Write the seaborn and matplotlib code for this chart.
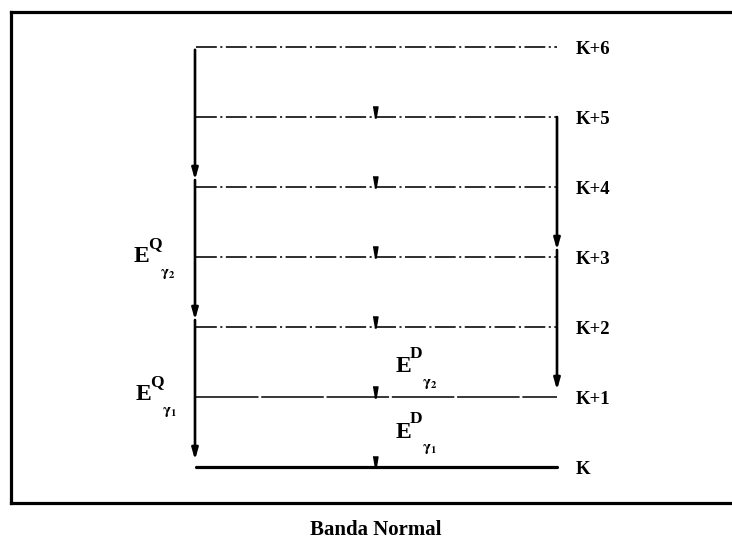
import matplotlib
matplotlib.use("Agg")
import matplotlib.pyplot as plt
import seaborn as sns
import pandas as pd

# Rotational levels of the normal band
levels = ["K", "K+1", "K+2", "K+3", "K+4", "K+5", "K+6"]
energy = [0, 1, 2, 3, 4, 5, 6]
line_kind = ["thick", "solid", "dashdot", "dashdot", "dashdot", "dashdot", "dashdot"]

# E2 (quadrupole) cascades: ΔJ = 2 chains on the left and right
e2_left_chain = [6, 4, 2, 0]
e2_right_chain = [5, 3, 1]
# E1 (dipole) transitions ending on each level
dipole_targets = [5, 4, 3, 2, 1, 0]

sns.set_theme(style="white")
plt.rcParams["font.family"] = ["Liberation Serif", "DejaVu Serif"]
plt.rcParams["mathtext.fontset"] = "stix"
plt.rcParams["lines.scale_dashes"] = False

fig = plt.figure(figsize=(7.32, 5.5), dpi=100)
ax = fig.add_axes([11 / 732, 1 - 503 / 550, 1.0, (503 - 12) / 550])

X0, X1 = 196, 557      # horizontal extent of level lines (pixel-like units)
XMID = 375             # position of dipole arrows
PX = 70.0              # pixels per level step

rows = []
for lab, e, kind in zip(levels, energy, line_kind):
    rows.append({"level": lab, "x": X0, "E": e, "kind": kind})
    rows.append({"level": lab, "x": X1, "E": e, "kind": kind})
df = pd.DataFrame(rows)

sns.lineplot(
    data=df, x="x", y="E", units="level", estimator=None,
    style="kind", size="kind",
    dashes={"thick": "", "solid": (45, 2), "dashdot": (15, 2.5, 1.5, 2.5)},
    sizes={"thick": 2.3, "solid": 1.1, "dashdot": 1.15},
    color="black", legend=False, ax=ax, sort=False,
)

# Level labels
for lab, e in zip(levels, energy):
    ax.text(576, e - 0.03, lab, fontsize=13.5, fontweight="bold",
            ha="left", va="center", color="black")

arrow_kw = dict(arrowstyle="-|>,head_length=0.6,head_width=0.17",
                color="black", lw=1.9, mutation_scale=11,
                shrinkA=0, shrinkB=0)

# Left E2 cascade
top = e2_left_chain[0] - 0.04
for a, b in zip(e2_left_chain[:-1], e2_left_chain[1:]):
    start = top if a == e2_left_chain[0] else a + 0.1
    ax.annotate("", xy=(195, b + 0.1), xytext=(195, start), arrowprops=arrow_kw)

# Right E2 cascade
for a, b in zip(e2_right_chain[:-1], e2_right_chain[1:]):
    start = a if a == e2_right_chain[0] else a + 0.1
    ax.annotate("", xy=(557, b + 0.1), xytext=(557, start), arrowprops=arrow_kw)

# Short dipole arrows sitting on each level
narrow_v = [(-0.45, 1.0), (0.45, 1.0), (0.12, -1.0), (-0.12, -1.0)]
ax.plot([XMID] * len(dipole_targets), [t + 0.075 for t in dipole_targets],
        linestyle="none", marker=narrow_v, markersize=8, color="black")


def energy_label(x, y, mult, sub):
    ax.text(x, y, "E", fontsize=17, fontweight="bold", ha="left", va="center",
            color="black")
    ax.text(x + 14, y + 0.18, mult, fontsize=12.5, fontweight="bold", ha="left",
            va="center", color="black")
    ax.text(x + 26, y - 0.25, sub, fontsize=11, ha="left", va="center", color="black")


energy_label(134, 3.01, "Q", r"$\mathbf{\gamma_2}$")
energy_label(136, 1.03, "Q", r"$\mathbf{\gamma_1}$")
energy_label(396, 1.44, "D", r"$\mathbf{\gamma_2}$")
energy_label(396, 0.50, "D", r"$\mathbf{\gamma_1}$")

fig.text(376 / 732, 1 - 530 / 550, "Banda Normal", fontsize=15, fontweight="bold",
         ha="center", va="center", color="black")

ax.set_xlim(11, 11 + 732)
ax.set_ylim((467 - 503) / PX, (467 - 12) / PX)
ax.set_xticks([])
ax.set_yticks([])
ax.set_xlabel("")
ax.set_ylabel("")
for side in ["top", "bottom", "left"]:
    ax.spines[side].set_visible(True)
    ax.spines[side].set_color("black")
    ax.spines[side].set_linewidth(2.3)
ax.spines["right"].set_visible(False)

fig.savefig("out.png", dpi=100, facecolor="white")
